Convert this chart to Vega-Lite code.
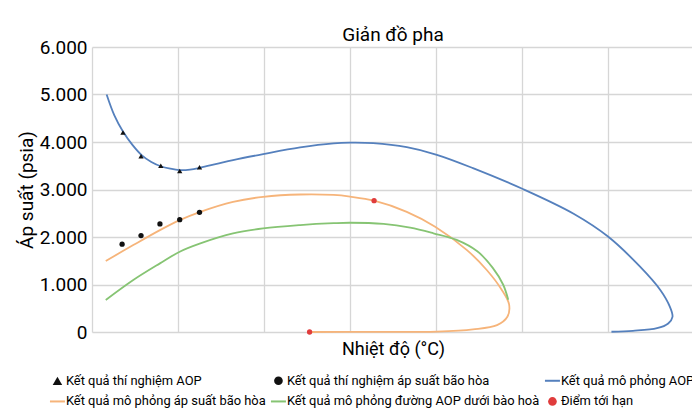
{
  "$schema": "https://vega.github.io/schema/vega-lite/v6.json",
  "width": 602,
  "height": 285,
  "autosize": {"type": "none"},
  "padding": {"left": 92, "top": 47, "right": 0, "bottom": 88},
  "background": "white",
  "title": {
    "text": "Giản đồ pha",
    "frame": "group",
    "fontSize": 19,
    "fontWeight": "normal",
    "color": "#000000",
    "anchor": "middle",
    "baseline": "alphabetic",
    "offset": 9,
    "dy": 31
  },
  "config": {
    "font": "Roboto, sans-serif",
    "view": {"stroke": null},
    "axis": {
      "grid": true,
      "gridColor": "#d6d6d6",
      "gridWidth": 1.3,
      "domain": false,
      "ticks": false,
      "labelColor": "#000000",
      "titleColor": "#000000",
      "titleFontWeight": "normal"
    },
    "legend": {
      "labelColor": "#000000",
      "labelFontSize": 12.9,
      "labelLimit": 400,
      "padding": 0
    }
  },
  "data": {
    "values": [
      {"series": "Kết quả mô phỏng AOP", "i": 0, "t": 0.17, "p": 5000},
      {"series": "Kết quả mô phỏng AOP", "i": 1, "t": 0.26, "p": 4560},
      {"series": "Kết quả mô phỏng AOP", "i": 2, "t": 0.36, "p": 4220},
      {"series": "Kết quả mô phỏng AOP", "i": 3, "t": 0.47, "p": 3940},
      {"series": "Kết quả mô phỏng AOP", "i": 4, "t": 0.58, "p": 3720},
      {"series": "Kết quả mô phỏng AOP", "i": 5, "t": 0.69, "p": 3580},
      {"series": "Kết quả mô phỏng AOP", "i": 6, "t": 0.8, "p": 3490},
      {"series": "Kết quả mô phỏng AOP", "i": 7, "t": 0.91, "p": 3440},
      {"series": "Kết quả mô phỏng AOP", "i": 8, "t": 1.02, "p": 3410},
      {"series": "Kết quả mô phỏng AOP", "i": 9, "t": 1.14, "p": 3420},
      {"series": "Kết quả mô phỏng AOP", "i": 10, "t": 1.26, "p": 3460},
      {"series": "Kết quả mô phỏng AOP", "i": 11, "t": 1.45, "p": 3540},
      {"series": "Kết quả mô phỏng AOP", "i": 12, "t": 1.64, "p": 3620},
      {"series": "Kết quả mô phỏng AOP", "i": 13, "t": 1.99, "p": 3745},
      {"series": "Kết quả mô phỏng AOP", "i": 14, "t": 2.42, "p": 3885},
      {"series": "Kết quả mô phỏng AOP", "i": 15, "t": 2.81, "p": 3970},
      {"series": "Kết quả mô phỏng AOP", "i": 16, "t": 3.0, "p": 3985},
      {"series": "Kết quả mô phỏng AOP", "i": 17, "t": 3.27, "p": 3975},
      {"series": "Kết quả mô phỏng AOP", "i": 18, "t": 3.66, "p": 3890},
      {"series": "Kết quả mô phỏng AOP", "i": 19, "t": 4.01, "p": 3730},
      {"series": "Kết quả mô phỏng AOP", "i": 20, "t": 4.43, "p": 3450},
      {"series": "Kết quả mô phỏng AOP", "i": 21, "t": 5.01, "p": 3010},
      {"series": "Kết quả mô phỏng AOP", "i": 22, "t": 5.6, "p": 2490},
      {"series": "Kết quả mô phỏng AOP", "i": 23, "t": 6.0, "p": 2010},
      {"series": "Kết quả mô phỏng AOP", "i": 24, "t": 6.37, "p": 1380},
      {"series": "Kết quả mô phỏng AOP", "i": 25, "t": 6.61, "p": 880},
      {"series": "Kết quả mô phỏng AOP", "i": 26, "t": 6.72, "p": 530},
      {"series": "Kết quả mô phỏng AOP", "i": 27, "t": 6.75, "p": 320},
      {"series": "Kết quả mô phỏng AOP", "i": 28, "t": 6.7, "p": 180},
      {"series": "Kết quả mô phỏng AOP", "i": 29, "t": 6.57, "p": 80},
      {"series": "Kết quả mô phỏng AOP", "i": 30, "t": 6.29, "p": 25},
      {"series": "Kết quả mô phỏng AOP", "i": 31, "t": 6.04, "p": 5},

      {"series": "Kết quả mô phỏng áp suất bão hòa", "i": 0, "t": 0.16, "p": 1495},
      {"series": "Kết quả mô phỏng áp suất bão hòa", "i": 1, "t": 0.48, "p": 1830},
      {"series": "Kết quả mô phỏng áp suất bão hòa", "i": 2, "t": 0.79, "p": 2145},
      {"series": "Kết quả mô phỏng áp suất bão hòa", "i": 3, "t": 1.02, "p": 2355},
      {"series": "Kết quả mô phỏng áp suất bão hòa", "i": 4, "t": 1.26, "p": 2530},
      {"series": "Kết quả mô phỏng áp suất bão hòa", "i": 5, "t": 1.64, "p": 2740},
      {"series": "Kết quả mô phỏng áp suất bão hòa", "i": 6, "t": 1.99, "p": 2845},
      {"series": "Kết quả mô phỏng áp suất bão hòa", "i": 7, "t": 2.42, "p": 2895},
      {"series": "Kết quả mô phỏng áp suất bão hòa", "i": 8, "t": 2.81, "p": 2885},
      {"series": "Kết quả mô phỏng áp suất bão hòa", "i": 9, "t": 3.0, "p": 2850},
      {"series": "Kết quả mô phỏng áp suất bão hòa", "i": 10, "t": 3.28, "p": 2765},
      {"series": "Kết quả mô phỏng áp suất bão hòa", "i": 11, "t": 3.66, "p": 2530},
      {"series": "Kết quả mô phỏng áp suất bão hòa", "i": 12, "t": 3.99, "p": 2217},
      {"series": "Kết quả mô phỏng áp suất bão hòa", "i": 13, "t": 4.36, "p": 1725},
      {"series": "Kết quả mô phỏng áp suất bão hòa", "i": 14, "t": 4.59, "p": 1305},
      {"series": "Kết quả mô phỏng áp suất bão hòa", "i": 15, "t": 4.76, "p": 900},
      {"series": "Kết quả mô phỏng áp suất bão hòa", "i": 16, "t": 4.85, "p": 580},
      {"series": "Kết quả mô phỏng áp suất bão hòa", "i": 17, "t": 4.83, "p": 320},
      {"series": "Kết quả mô phỏng áp suất bão hòa", "i": 18, "t": 4.71, "p": 145},
      {"series": "Kết quả mô phỏng áp suất bão hòa", "i": 19, "t": 4.43, "p": 55},
      {"series": "Kết quả mô phỏng áp suất bão hòa", "i": 20, "t": 4.01, "p": 10},
      {"series": "Kết quả mô phỏng áp suất bão hòa", "i": 21, "t": 3.27, "p": 2},
      {"series": "Kết quả mô phỏng áp suất bão hòa", "i": 22, "t": 2.53, "p": 0},

      {"series": "Kết quả mô phỏng đường AOP dưới bào hoà", "i": 0, "t": 0.16, "p": 675},
      {"series": "Kết quả mô phỏng đường AOP dưới bào hoà", "i": 1, "t": 0.48, "p": 1095},
      {"series": "Kết quả mô phỏng đường AOP dưới bào hoà", "i": 2, "t": 0.79, "p": 1445},
      {"series": "Kết quả mô phỏng đường AOP dưới bào hoà", "i": 3, "t": 1.02, "p": 1690},
      {"series": "Kết quả mô phỏng đường AOP dưới bào hoà", "i": 4, "t": 1.26, "p": 1865},
      {"series": "Kết quả mô phỏng đường AOP dưới bào hoà", "i": 5, "t": 1.64, "p": 2075},
      {"series": "Kết quả mô phỏng đường AOP dưới bào hoà", "i": 6, "t": 1.99, "p": 2180},
      {"series": "Kết quả mô phỏng đường AOP dưới bào hoà", "i": 7, "t": 2.42, "p": 2250},
      {"series": "Kết quả mô phỏng đường AOP dưới bào hoà", "i": 8, "t": 2.81, "p": 2290},
      {"series": "Kết quả mô phỏng đường AOP dưới bào hoà", "i": 9, "t": 3.0, "p": 2300},
      {"series": "Kết quả mô phỏng đường AOP dưới bào hoà", "i": 10, "t": 3.39, "p": 2275},
      {"series": "Kết quả mô phỏng đường AOP dưới bào hoà", "i": 11, "t": 3.7, "p": 2195},
      {"series": "Kết quả mô phỏng đường AOP dưới bào hoà", "i": 12, "t": 3.97, "p": 2078},
      {"series": "Kết quả mô phỏng đường AOP dưới bào hoà", "i": 13, "t": 4.24, "p": 1940},
      {"series": "Kết quả mô phỏng đường AOP dưới bào hoà", "i": 14, "t": 4.48, "p": 1700},
      {"series": "Kết quả mô phỏng đường AOP dưới bào hoà", "i": 15, "t": 4.66, "p": 1350},
      {"series": "Kết quả mô phỏng đường AOP dưới bào hoà", "i": 16, "t": 4.78, "p": 1000},
      {"series": "Kết quả mô phỏng đường AOP dưới bào hoà", "i": 17, "t": 4.84, "p": 680},

      {"series": "Kết quả thí nghiệm AOP", "i": 0, "t": 0.36, "p": 4200},
      {"series": "Kết quả thí nghiệm AOP", "i": 1, "t": 0.57, "p": 3700},
      {"series": "Kết quả thí nghiệm AOP", "i": 2, "t": 0.8, "p": 3500},
      {"series": "Kết quả thí nghiệm AOP", "i": 3, "t": 1.02, "p": 3390},
      {"series": "Kết quả thí nghiệm AOP", "i": 4, "t": 1.25, "p": 3470},

      {"series": "Kết quả thí nghiệm áp suất bão hòa", "i": 0, "t": 0.35, "p": 1850},
      {"series": "Kết quả thí nghiệm áp suất bão hòa", "i": 1, "t": 0.57, "p": 2030},
      {"series": "Kết quả thí nghiệm áp suất bão hòa", "i": 2, "t": 0.79, "p": 2275},
      {"series": "Kết quả thí nghiệm áp suất bão hòa", "i": 3, "t": 1.02, "p": 2365},
      {"series": "Kết quả thí nghiệm áp suất bão hòa", "i": 4, "t": 1.25, "p": 2520},

      {"series": "Điểm tới hạn", "i": 0, "t": 3.28, "p": 2765},
      {"series": "Điểm tới hạn", "i": 1, "t": 2.53, "p": 0}
    ]
  },
  "encoding": {
    "x": {
      "field": "t",
      "type": "quantitative",
      "scale": {"domain": [0, 7], "nice": false, "zero": false},
      "axis": {
        "values": [0, 1, 2, 3, 4, 5, 6, 7],
        "labels": false,
        "title": "Nhiệt độ (°C)",
        "titleFontSize": 18,
        "titlePadding": 8
      }
    },
    "y": {
      "field": "p",
      "type": "quantitative",
      "scale": {"domain": [0, 6000], "nice": false},
      "axis": {
        "values": [0, 1000, 2000, 3000, 4000, 5000, 6000],
        "labelExpr": "replace(format(datum.value, ','), ',', '.')",
        "labelFontSize": 19,
        "labelPadding": 5,
        "title": "Áp suất (psia)",
        "titleFontSize": 19,
        "titlePadding": 3
      }
    },
    "color": {
      "field": "series",
      "type": "nominal",
      "scale": {
        "domain": [
          "Kết quả thí nghiệm AOP",
          "Kết quả thí nghiệm áp suất bão hòa",
          "Kết quả mô phỏng AOP",
          "Kết quả mô phỏng áp suất bão hòa",
          "Kết quả mô phỏng đường AOP dưới bào hoà",
          "Điểm tới hạn"
        ],
        "range": ["#111111", "#111111", "#5580bd", "#f6b47a", "#86c473", "#e03c3c"]
      },
      "legend": {
        "title": null,
        "orient": "none",
        "direction": "horizontal",
        "columns": 3,
        "legendX": -41,
        "legendY": 327,
        "columnPadding": 0,
        "rowPadding": 7,
        "symbolSize": 225,
        "labelOffset": 2,
        "encode": {
          "symbols": {
            "update": {
              "shape": {"signal": "datum.value === 'Kết quả thí nghiệm AOP' ? 'triangle-up' : (datum.value === 'Kết quả thí nghiệm áp suất bão hòa' || datum.value === 'Điểm tới hạn') ? 'circle' : 'stroke'"},
              "size": {"signal": "datum.value === 'Kết quả thí nghiệm AOP' ? 90 : (datum.value === 'Kết quả thí nghiệm áp suất bão hòa' || datum.value === 'Điểm tới hạn') ? 75 : 225"},
              "strokeWidth": {"signal": "(datum.value === 'Kết quả thí nghiệm AOP' || datum.value === 'Kết quả thí nghiệm áp suất bão hòa' || datum.value === 'Điểm tới hạn') ? 0 : 2"},
              "fill": {"scale": "color", "field": "value"},
              "stroke": {"scale": "color", "field": "value"},
              "opacity": {"value": 1}
            }
          }
        }
      }
    }
  },
  "layer": [
    {
      "transform": [
        {"filter": {"field": "series", "oneOf": [
          "Kết quả mô phỏng AOP",
          "Kết quả mô phỏng áp suất bão hòa",
          "Kết quả mô phỏng đường AOP dưới bào hoà"
        ]}}
      ],
      "mark": {"type": "line", "strokeWidth": 1.8, "interpolate": "catmull-rom"},
      "encoding": {
        "order": {"field": "i", "type": "quantitative"}
      }
    },
    {
      "transform": [
        {"filter": {"field": "series", "oneOf": [
          "Kết quả thí nghiệm AOP",
          "Kết quả thí nghiệm áp suất bão hòa",
          "Điểm tới hạn"
        ]}}
      ],
      "mark": {"type": "point", "filled": true, "opacity": 1},
      "encoding": {
        "shape": {
          "field": "series",
          "type": "nominal",
          "scale": {
            "domain": ["Kết quả thí nghiệm AOP", "Kết quả thí nghiệm áp suất bão hòa", "Điểm tới hạn"],
            "range": ["triangle-up", "circle", "circle"]
          },
          "legend": null
        },
        "size": {
          "field": "series",
          "type": "nominal",
          "scale": {
            "domain": ["Kết quả thí nghiệm AOP", "Kết quả thí nghiệm áp suất bão hòa", "Điểm tới hạn"],
            "range": [28, 28, 36]
          },
          "legend": null
        }
      }
    }
  ]
}
